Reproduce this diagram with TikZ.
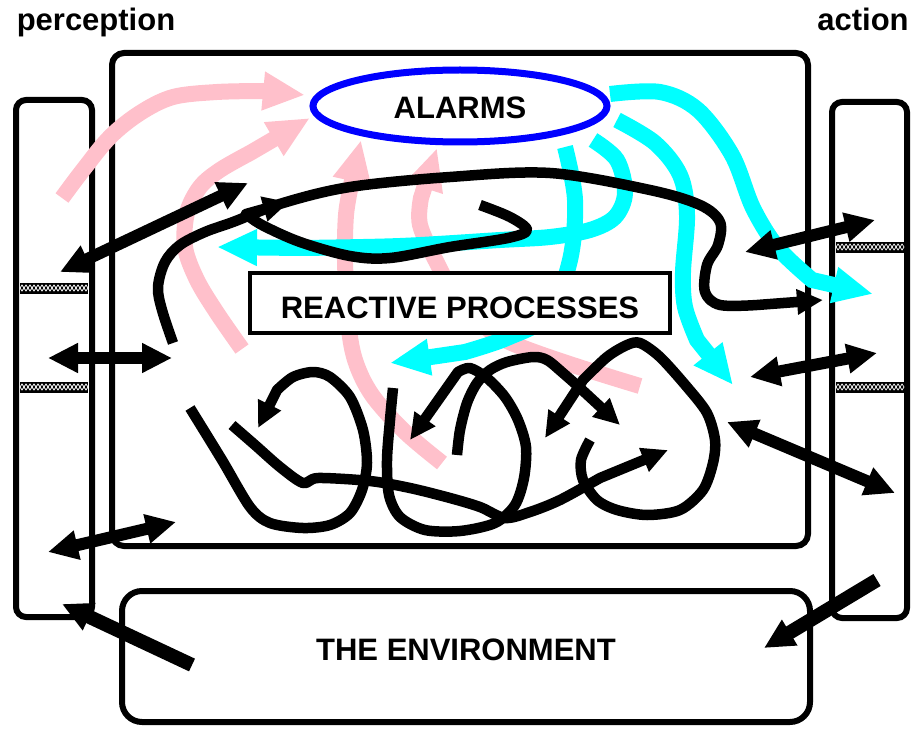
\documentclass[tikz,border=0pt]{standalone}
\usepackage{fontspec}
\setmainfont{Liberation Sans}
\usetikzlibrary{arrows.meta,decorations.pathmorphing,shapes.geometric}
\definecolor{pinkline}{RGB}{255,192,203}
\definecolor{cyanline}{RGB}{0,255,255}
\definecolor{alarmblue}{RGB}{0,0,255}
\begin{document}
\begin{tikzpicture}[x=1pt,y=-1pt,
  frame/.style={draw, line width=6pt, rounded corners=#1, inner sep=0pt},
  frame/.default=12pt,
  label/.style={font=\fontsize{31}{37}\selectfont\bfseries, inner sep=0pt, anchor=base},
  pinkflow/.style={pinkline, line width=16pt, -{Triangle[length=42pt,width=36pt]}},
  cyanflow/.style={cyanline, line width=16pt, -{Triangle[length=40pt,width=34pt]}},
  thread/.style={line width=10.5pt, line join=round, -{Triangle[length=26pt,width=24pt]}},
  link/.style={line width=12pt, {Triangle[length=30pt,width=28pt]}-{Triangle[length=30pt,width=28pt]}},
  push/.style={line width=14pt, -{Triangle[length=30pt,width=28pt]}},
  hatchline/.style={white, line width=0.7pt, decorate, decoration={zigzag, segment length=8pt, amplitude=#1}},
]
\useasboundingbox (0,0) rectangle (912,730);

% frames: the mind, the two interface columns, the environment
\node[frame, minimum width=696pt, minimum height=493pt] (mind) at (460,299.5) {};
\node[frame=10pt, minimum width=76pt, minimum height=517pt] (sense) at (54,358.5) {};
\node[frame=10pt, minimum width=75pt, minimum height=516pt] (motor) at (869.5,360) {};
\node[frame=20pt, minimum width=688pt, minimum height=131pt] (world) at (466,656.5) {};

% braided bars across the columns
\foreach \xa/\xb/\yy in {20/88/288, 20/88/387, 836/904/247, 836/904/387} {
  \fill (\xa,\yy-5.5) rectangle (\xb,\yy+5.5);
  \draw[hatchline=3pt] (\xa,\yy) -- (\xb,\yy);
  \draw[hatchline=-3pt] (\xa,\yy) -- (\xb,\yy);
}

% pink flows up into the alarm system
\draw[pinkflow] plot[smooth, tension=0.55] coordinates {(62,198) (83,170) (110,137) (140,113) (173,97) (217,92) (263,91)} -- (305,95);
\draw[pinkflow] plot[smooth, tension=0.55] coordinates {(242,349) (217,313) (197,280) (185,247) (187,213) (200,187) (220,170) (250,153)} -- (310,118);
\draw[pinkflow] plot[smooth, tension=0.55] coordinates {(442,463) (405,432) (372,395) (355,360) (348,320) (345,260) (346,215) (351,185)} -- (361,140);
\draw[pinkflow] plot[smooth, tension=0.55] coordinates {(640,386) (505,340) (455,292) (437,263) (420,225) (421,198)} -- (437,148);

% cyan flows down from the alarm system
\draw[cyanflow] plot[smooth, tension=0.55] coordinates {(610,94) (660,92) (698,110) (732,155) (753,208) (778,248) (812,280)} -- (873,294);
\draw[cyanflow] plot[smooth, tension=0.55] coordinates {(617,120) (655,143) (680,175) (687,215) (683,272) (685,307) (697,340)} -- (733,385);
\draw[cyanflow] plot[smooth, tension=0.55] coordinates {(593,140) (617,160) (625,193) (615,217) (590,230) (550,237) (500,240) (400,246) (300,248)} -- (217,247);
\draw[cyanflow] plot[smooth, tension=0.55] coordinates {(565,147) (575,200) (570,260) (548,315) (507,338) (465,352)} -- (390,363);

% central boxes
\node[draw, fill=white, line width=3.5pt, minimum width=420pt, minimum height=60pt, inner sep=0pt] (react) at (460,303) {};
\node[draw=alarmblue, fill=white, line width=7pt, ellipse, minimum width=294pt, minimum height=72pt, inner sep=0pt] (alarm) at (460,106) {};

% tangled processes
\draw[thread] plot[smooth, tension=0.55] coordinates {(173,343) (162,310) (158,287) (165,262) (180,245) (205,232) (233,222) (283,203) (350,187) (450,177) (550,173) (650,190) (700,205) (720,222) (718,245) (707,265) (705,292) (720,305) (757,305)} -- (823,300);
\draw[thread] plot[smooth, tension=0.55] coordinates {(480,205) (510,217) (527,230) (508,238) (450,247) (390,258) (350,256) (300,242) (262,225) (246,214)} -- (289,202);
\draw[thread] plot[smooth, tension=0.5] coordinates {(190,408) (222,460) (250,507) (270,523) (303,528) (330,525) (350,513) (362,490) (367,463) (363,430) (350,397) (330,377) (313,372) (293,377) (277,390)} -- (258,428);
\draw[thread] plot[smooth, tension=0.5] coordinates {(232,425) (255,445) (280,467) (303,483) (318,478) (370,481) (410,488) (450,498) (480,507) (505,518) (530,512) (560,500) (600,478)} -- (668,450);
\draw[thread] plot[smooth, tension=0.5] coordinates {(393,388) (390,420) (387,460) (389,495) (400,517) (425,530) (460,531) (495,523) (515,505) (524,478) (526,447) (518,420) (505,397) (487,378) (470,368) (458,372)} -- (410,440);
\draw[thread] plot[smooth, tension=0.5] coordinates {(457,455) (460,430) (467,403) (477,383) (490,370) (507,362) (533,357) (547,360) (563,373) (580,388)} -- (620,425);
\draw[thread] plot[smooth, tension=0.5] coordinates {(590,440) (581,460) (583,480) (597,500) (617,510) (647,515) (680,510) (703,490) (713,463) (715,440) (707,413) (687,387) (660,357) (640,343) (627,345) (607,357) (583,380)} -- (545,438);

% links between columns, mind and environment
\coordinate (s1) at (60,272);   \coordinate (m1) at (248,183);
\coordinate (s2) at (48,358);   \coordinate (m2) at (172,358);
\coordinate (s3) at (48,552);   \coordinate (m3) at (176,522);
\coordinate (w1) at (192,665);  \coordinate (s4) at (62,604);
\coordinate (r1) at (877,580);  \coordinate (w2) at (764,648);
\coordinate (m4) at (727,422);  \coordinate (r2) at (895,493);
\coordinate (m5) at (745,252);  \coordinate (r3) at (875,220);
\coordinate (m6) at (750,377);  \coordinate (r4) at (877,353);
\draw[link] (s1) -- (m1);
\draw[link] (s2) -- (m2);
\draw[link] (s3) -- (m3);
\draw[push] (w1) -- (s4);
\draw[push] (r1) -- (w2);
\draw[link] (m4) -- (r2);
\draw[link] (m5) -- (r3);
\draw[link] (m6) -- (r4);

% labels
\node[label] (perc) at (96,31) {perception};
\node[label] (act) at (863,31) {action};
\node[label] (alarmtext) at (460,119) {ALARMS};
\node[label] (reacttext) at (460,318) {REACTIVE PROCESSES};
\node[label] (worldtext) at (466,660) {THE ENVIRONMENT};
\end{tikzpicture}
\end{document}
